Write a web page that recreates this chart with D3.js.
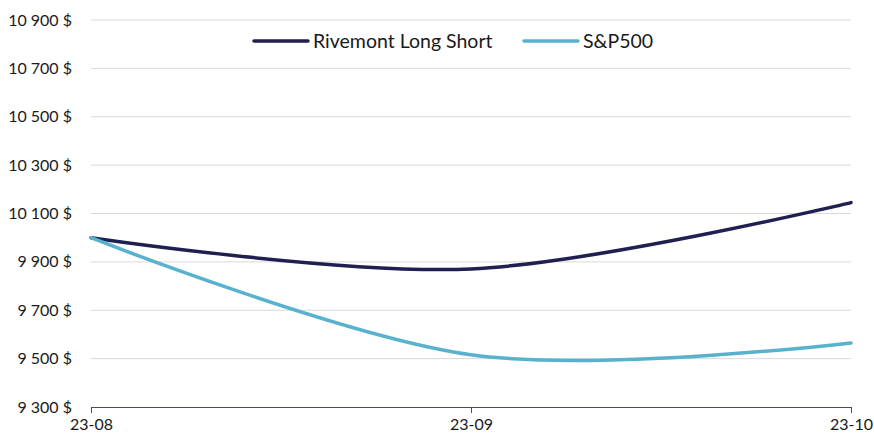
<!DOCTYPE html>
<html>
<head>
<meta charset="utf-8">
<script src="https://cdn.jsdelivr.net/npm/d3@7"></script>
<style>
  body { margin: 0; background: #fff; }
  svg text { font-family: Lato, "Open Sans", sans-serif; fill: #1a1a1a; }
</style>
</head>
<body>
<svg id="chart" width="874" height="438"></svg>
<script>
const months = ["23-08", "23-09", "23-10"];
const rivemont = [10000, 9871, 10145];
const sp500 = [10000, 9516, 9565];
const yTicks = [9300, 9500, 9700, 9900, 10100, 10300, 10500, 10700, 10900];
const seriesNames = ["Rivemont Long Short", "S&P500"];
const colors = ["#1f1f50", "#58b1cd"];

const chart = d3.select("#chart");
const margin = {left: 91, right: 23, top: 20, bottom: 31};
const width = 874, height = 438;

let x = d3.scalePoint()
  .domain(months)
  .range([margin.left, width - margin.right]);
let y = d3.scaleLinear()
  .domain([9300, 10900])
  .range([height - margin.bottom, margin.top]);

const fmt = (v) => d3.format(",")(v).replace(",", " ") + " $";

// gridlines
chart.append("g")
  .selectAll("line")
  .data(yTicks.slice(1))
  .enter().append("line")
    .attr("x1", margin.left).attr("x2", width - margin.right)
    .attr("y1", d => y(d)).attr("y2", d => y(d))
    .attr("stroke", "#d9d9d9").attr("stroke-width", 1);

// y labels
chart.append("g")
  .selectAll("text")
  .data(yTicks)
  .enter().append("text")
    .attr("x", 72)
    .attr("y", d => y(d))
    .attr("dy", "0.35em")
    .attr("text-anchor", "end")
    .style("font-size", "16px")
    .text(fmt);

// x axis
let x_axis = d3.axisBottom(x).tickSize(6).tickSizeOuter(0).tickPadding(6);
let xg = chart.append("g")
  .attr("transform", `translate(0,${height - margin.bottom})`)
  .call(x_axis);
xg.select(".domain").attr("stroke", "#4a4a78");
xg.selectAll(".tick line").attr("stroke", "#4a4a78");
xg.selectAll(".tick text")
  .style("font-size", "16px")
  .style("font-family", "Lato, sans-serif")
  .attr("fill", "#1a1a1a");

// lines
const line = d3.line()
  .x((d, i) => x(months[i]))
  .y(d => y(d))
  .curve(d3.curveCardinal.tension(0));

[rivemont, sp500].forEach((s, i) => {
  chart.append("path")
    .datum(s)
    .attr("d", line)
    .attr("fill", "none")
    .attr("stroke", colors[i])
    .attr("stroke-width", 3.5)
    .attr("stroke-linecap", "round");
});

// legend
const legendX = [254, 524];
seriesNames.forEach((n, i) => {
  let g = chart.append("g").attr("transform", `translate(${legendX[i]},41)`);
  g.append("line")
    .attr("x1", 0).attr("x2", 54).attr("y1", 0).attr("y2", 0)
    .attr("stroke", colors[i]).attr("stroke-width", 3.5).attr("stroke-linecap", "round");
  g.append("text")
    .attr("x", 59).attr("y", 0).attr("dy", "0.35em")
    .style("font-size", "19.5px")
    .text(n);
});
</script>
</body>
</html>
